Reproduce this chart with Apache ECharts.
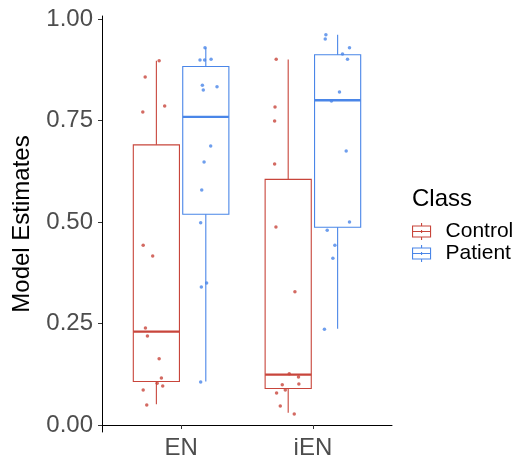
<!DOCTYPE html>
<html>
<head>
<meta charset="utf-8">
<script src="https://cdn.jsdelivr.net/npm/echarts@6/dist/echarts.min.js"></script>
<style>html,body{margin:0;padding:0;background:#fff}#c{width:516px;height:464px}</style>
</head>
<body>
<div id="c"></div>
<script>
const categories = ['EN', 'iEN'];
const classes = ['Control', 'Patient'];
const yTicks = [0, 0.25, 0.5, 0.75, 1.0];
// box stats per category: [lowWhisker, Q1, median, Q3, highWhisker]
const controlBox = [[0.051, 0.107, 0.230, 0.690, 0.897], [0.030, 0.090, 0.124, 0.605, 0.900]];
const patientBox = [[0.107, 0.519, 0.759, 0.883, 0.929], [0.237, 0.487, 0.800, 0.912, 0.961]];
// jittered points: [value, jitter offset (category units)]
const controlEN = [[0.897,0.021],[0.857,-0.085],[0.771,-0.103],[0.786,0.063],[0.443,-0.100],[0.416,-0.028],[0.239,-0.083],[0.219,-0.068],[0.163,0.021],[0.116,0.038],[0.103,0.006],[0.096,0.048],[0.086,-0.100],[0.049,-0.073]];
const patientEN = [[0.929,-0.006],[0.899,-0.044],[0.899,-0.009],[0.901,0.040],[0.837,-0.026],[0.825,-0.019],[0.833,0.085],[0.687,0.037],[0.648,-0.013],[0.579,-0.031],[0.498,-0.039],[0.340,-0.034],[0.350,0.006],[0.106,-0.039]];
const controliEN = [[0.901,-0.091],[0.783,-0.100],[0.749,-0.103],[0.643,-0.103],[0.488,-0.093],[0.328,0.051],[0.126,0.008],[0.118,0.078],[0.099,-0.045],[0.101,0.081],[0.086,-0.022],[0.079,-0.088],[0.047,-0.060],[0.027,0.046]];
const patientiEN = [[0.961,-0.089],[0.951,-0.094],[0.929,0.090],[0.914,0.037],[0.901,0.075],[0.820,0.014],[0.798,-0.047],[0.675,0.065],[0.500,0.090],[0.480,-0.079],[0.443,-0.021],[0.411,-0.036],[0.236,-0.100]];

const colors = {Control: '#C8453B', Patient: '#4A86E8'};
const dodge = 0.1875, boxW = 0.35;
const FONT = 'Liberation Sans, Arial';

function boxData(stats, cls) {
  const off = cls === 'Control' ? -dodge : dodge;
  return stats.map((s, i) => [i + 1 + off].concat(s));
}
function pointData(lists, cls) {
  const off = cls === 'Control' ? -dodge : dodge;
  const out = [];
  lists.forEach((pts, i) => pts.forEach(p => out.push([i + 1 + off + p[1], p[0]])));
  return out;
}
function renderBox(color) {
  return function (params, api) {
    const x = api.value(0);
    const lo = api.coord([x, api.value(1)]);
    const q1 = api.coord([x, api.value(2)]);
    const md = api.coord([x, api.value(3)]);
    const q3 = api.coord([x, api.value(4)]);
    const hi = api.coord([x, api.value(5)]);
    const l = api.coord([x - boxW / 2, 0])[0];
    const r = api.coord([x + boxW / 2, 0])[0];
    const ls = {stroke: color, lineWidth: 1.1, fill: null};
    return {type: 'group', children: [
      {type: 'line', shape: {x1: lo[0], y1: lo[1], x2: q1[0], y2: q1[1]}, style: ls},
      {type: 'line', shape: {x1: q3[0], y1: q3[1], x2: hi[0], y2: hi[1]}, style: ls},
      {type: 'rect', shape: {x: l, y: q3[1], width: r - l, height: q1[1] - q3[1]}, style: {stroke: color, lineWidth: 1.1, fill: 'rgba(255,255,255,0)'}},
      {type: 'line', shape: {x1: l, y1: md[1], x2: r, y2: md[1]}, style: {stroke: color, lineWidth: 2.4}}
    ]};
  };
}
const iconPath = 'path://M9,0 L9,3 M0,3 L18,3 L18,14 L0,14 Z M0,8.5 L18,8.5 M9,14 L9,17 M9,7 L9,10';

const chart = echarts.init(document.getElementById('c'), null, {renderer: 'canvas'});
chart.setOption({
  animation: false,
  backgroundColor: '#fff',
  grid: {left: 102, right: 124, top: 16, bottom: 32},
  title: {text: 'Class', left: 412, top: 187, padding: 0, textStyle: {fontSize: 24, fontWeight: 'normal', color: '#000', fontFamily: FONT}},
  legend: {
    orient: 'vertical', left: 412, top: 221, padding: 0, itemWidth: 18, itemHeight: 17, itemGap: 1,
    data: classes.map(c => ({name: c, icon: iconPath, itemStyle: {color: 'rgba(0,0,0,0)', borderColor: colors[c], borderWidth: 1.1}})),
    textStyle: {fontSize: 21, lineHeight: 20, color: '#000', fontFamily: FONT, padding: [0, 0, 0, 10]}
  },
  xAxis: {
    type: 'value', min: 0.4, max: 2.6,
    splitLine: {show: false},
    axisLine: {show: true, lineStyle: {color: '#000', width: 1}},
    axisTick: {show: true, customValues: [1, 2], length: 4, lineStyle: {color: '#333'}},
    axisLabel: {customValues: [1, 2], formatter: v => categories[Math.round(v) - 1] || '', fontSize: 24, color: '#4D4D4D', margin: 4, fontFamily: FONT}
  },
  yAxis: {
    type: 'value', min: -0.0172, max: 1.0074,
    name: 'Model Estimates', nameLocation: 'middle', nameGap: 68, nameRotate: 90,
    nameTextStyle: {fontSize: 24, color: '#000', fontFamily: FONT},
    splitLine: {show: false},
    axisLine: {show: true, lineStyle: {color: '#000', width: 1}},
    axisTick: {show: true, customValues: yTicks, length: 4, lineStyle: {color: '#333'}},
    axisLabel: {customValues: yTicks, formatter: v => v.toFixed(2), fontSize: 24, color: '#4D4D4D', margin: 9, fontFamily: FONT}
  },
  series: [
    {name: 'Control', type: 'custom', renderItem: renderBox(colors.Control), data: boxData(controlBox, 'Control'), itemStyle: {color: colors.Control}, encode: {x: 0, y: [1, 2, 3, 4, 5]}, z: 2},
    {name: 'Patient', type: 'custom', renderItem: renderBox(colors.Patient), data: boxData(patientBox, 'Patient'), itemStyle: {color: colors.Patient}, encode: {x: 0, y: [1, 2, 3, 4, 5]}, z: 2},
    {name: 'Control', type: 'scatter', symbolSize: 3.5, data: pointData([controlEN, controliEN], 'Control'), itemStyle: {color: colors.Control}, z: 3},
    {name: 'Patient', type: 'scatter', symbolSize: 3.5, data: pointData([patientEN, patientiEN], 'Patient'), itemStyle: {color: colors.Patient}, z: 3}
  ]
});
</script>
</body>
</html>
